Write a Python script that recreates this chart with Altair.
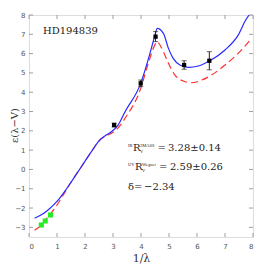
import altair as alt
import pandas as pd

# ---- data ----
blue_x = [0.2, 0.5, 0.68, 1.04, 1.27, 1.51, 1.87, 2.23, 2.52, 2.76, 2.94, 3.18, 3.43, 3.99, 4.32, 4.5, 4.58, 4.8, 4.98, 5.15, 5.39, 5.69, 6.05, 6.46, 7.0, 7.47, 7.74, 7.86]
blue_y = [-2.53, -2.3, -2.1, -1.59, -1.15, -0.64, 0.14, 0.92, 1.52, 1.78, 1.95, 2.3, 2.99, 4.46, 6.01, 6.96, 7.31, 7.05, 6.27, 5.75, 5.41, 5.29, 5.36, 5.63, 6.19, 6.96, 7.74, 8.0]
red_x = [0.2, 0.44, 0.68, 0.92, 1.15, 1.33, 1.51, 1.87, 2.23, 2.52, 2.76, 2.94, 3.18, 3.43, 3.99, 4.26, 4.52, 4.56, 4.8, 4.98, 5.21, 5.51, 5.81, 6.17, 6.52, 7.0, 7.47, 7.95]
red_y = [-3.15, -2.88, -2.45, -2.02, -1.5, -1.07, -0.64, 0.14, 0.92, 1.5, 1.74, 1.87, 2.15, 2.65, 4.2, 5.5, 6.53, 6.62, 6.1, 5.5, 4.89, 4.58, 4.49, 4.63, 4.89, 5.41, 6.01, 6.79]
obs_x = [3.04, 3.99, 4.52, 5.54, 6.44]
obs_y = [2.30, 4.46, 6.88, 5.41, 5.63]
obs_err = [0.1, 0.17, 0.26, 0.22, 0.47]
ir_x = [0.44, 0.58, 0.77]
ir_y = [-2.88, -2.67, -2.36]
x_ticks = [0, 1, 2, 3, 4, 5, 6, 7, 8]
y_ticks = [-3, -2, -1, 0, 1, 2, 3, 4, 5, 6, 7, 8]

W, H = 224, 222
SERIF = "DejaVu Serif"
SMALL = "Liberation Serif"
xs = alt.Scale(domain=[0, 8], nice=False, zero=False)
ys = alt.Scale(domain=[-3.5, 8], nice=False, zero=False)
ax_x = alt.Axis(values=x_ticks, ticks=False, domain=False, grid=False,
                labelFontSize=7, labelColor="#555", labelPadding=5, labelFont="DejaVu Sans",
                title="1/λ", titleFont=SERIF, titleFontSize=11, titleFontWeight="normal",
                titleColor="#333", titleX=112, titleY=21, titleBaseline="middle")
ax_y = alt.Axis(values=y_ticks, ticks=False, domain=False, grid=False,
                labelFontSize=7, labelColor="#555", labelPadding=4, labelFont="DejaVu Sans",
                title="ε(λ−V)", titleFont=SERIF, titleFontSize=10, titleFontWeight="normal",
                titleColor="#333", titleX=-15, titleY=110, titleAngle=270,
                titleBaseline="middle", titleAlign="center")


def X(f):
    return alt.X(f, scale=xs, axis=ax_x)


def Y(f):
    return alt.Y(f, scale=ys, axis=ax_y)


curves_b = pd.DataFrame({"x": blue_x, "y": blue_y, "o": list(range(len(blue_x)))})
curves_r = pd.DataFrame({"x": red_x, "y": red_y, "o": list(range(len(red_x)))})
obs = pd.DataFrame({"x": obs_x, "y": obs_y, "lo": [y - e for y, e in zip(obs_y, obs_err)],
                    "hi": [y + e for y, e in zip(obs_y, obs_err)]})
ir = pd.DataFrame({"x": ir_x, "y": ir_y})
xt = pd.DataFrame({"v": x_ticks})
yt = pd.DataFrame({"v": y_ticks})

tick_col = "#888"
tb = alt.Chart(xt).mark_rule(color=tick_col, strokeWidth=0.8).encode(
    x=X("v:Q"), y=alt.value(H), y2=alt.value(H - 4))
tt = alt.Chart(xt).mark_rule(color=tick_col, strokeWidth=0.8).encode(
    x=X("v:Q"), y=alt.value(0), y2=alt.value(4))
tl = alt.Chart(yt).mark_rule(color=tick_col, strokeWidth=0.8).encode(
    y=Y("v:Q"), x=alt.value(0), x2=alt.value(4))
tr = alt.Chart(yt).mark_rule(color=tick_col, strokeWidth=0.8).encode(
    y=Y("v:Q"), x=alt.value(W), x2=alt.value(W - 4))

blue = alt.Chart(curves_b).mark_line(color="#2a2aff", strokeWidth=1.2,
                                     interpolate="monotone", clip=True).encode(
    x=X("x:Q"), y=Y("y:Q"), order="o:Q")
red = alt.Chart(curves_r).mark_line(color="#ff3030", strokeWidth=1.2,
                                    strokeDash=[7, 4], interpolate="monotone", clip=True).encode(
    x=X("x:Q"), y=Y("y:Q"), order="o:Q")

err = alt.Chart(obs).mark_rule(color="#222", strokeWidth=1).encode(
    x=X("x:Q"), y=Y("lo:Q"), y2="hi:Q")
cap_lo = alt.Chart(obs).mark_tick(color="#222", orient="horizontal", size=5, thickness=1).encode(
    x=X("x:Q"), y=Y("lo:Q"))
cap_hi = alt.Chart(obs).mark_tick(color="#222", orient="horizontal", size=5, thickness=1).encode(
    x=X("x:Q"), y=Y("hi:Q"))
pts = alt.Chart(obs).mark_square(color="black", size=18, opacity=1).encode(
    x=X("x:Q"), y=Y("y:Q"))
gpts = alt.Chart(ir).mark_square(color="#22ee22", size=26, opacity=1).encode(
    x=X("x:Q"), y=Y("y:Q"))


def px_x(p):
    return (p - 29) / 28.0


def px_y(p):
    return 8 - (p - 15) / 19.3


big_labels = pd.DataFrame([
    {"t": "HD194839", "x": px_x(43), "y": px_y(31)},
    {"t": "R", "x": px_x(133), "y": px_y(148)},
    {"t": "=", "x": px_x(157.5), "y": px_y(148)},
    {"t": "3.28±0.14", "x": px_x(168), "y": px_y(148)},
    {"t": "R", "x": px_x(135), "y": px_y(167)},
    {"t": "=", "x": px_x(159), "y": px_y(167)},
    {"t": "2.59±0.26", "x": px_x(170), "y": px_y(167)},
    {"t": "δ", "x": px_x(128), "y": px_y(187)},
    {"t": "=", "x": px_x(134), "y": px_y(187)},
    {"t": "−2.34", "x": px_x(144), "y": px_y(187)},
])
small_labels = pd.DataFrame([
    {"t": "IR", "x": px_x(128), "y": px_y(146)},
    {"t": "2MASS", "x": px_x(140), "y": px_y(145.5)},
    {"t": "V", "x": px_x(140), "y": px_y(152)},
    {"t": "UV", "x": px_x(128), "y": px_y(165)},
    {"t": "Wegner", "x": px_x(142), "y": px_y(164.5)},
    {"t": "V", "x": px_x(142), "y": px_y(171)},
])
txt_big = alt.Chart(big_labels).mark_text(align="left", baseline="middle", color="#222",
                                          font=SERIF, fontSize=10).encode(
    x=X("x:Q"), y=Y("y:Q"), text="t:N")
txt_small = alt.Chart(small_labels).mark_text(align="left", baseline="middle", color="#222",
                                              font=SMALL, fontSize=4.5).encode(
    x=X("x:Q"), y=Y("y:Q"), text="t:N")

chart = alt.layer(tb, tt, tl, tr, red, blue, err, cap_lo, cap_hi, pts, gpts, txt_big, txt_small).properties(
    width=W, height=H,
    autosize=alt.AutoSizeParams(type="none"),
    padding={"left": 21, "top": 7, "right": 5, "bottom": 29},
).configure_view(stroke="#999", strokeWidth=1).configure(background="white")

chart.save("out.html", embed_options={"renderer": "svg", "actions": False})
